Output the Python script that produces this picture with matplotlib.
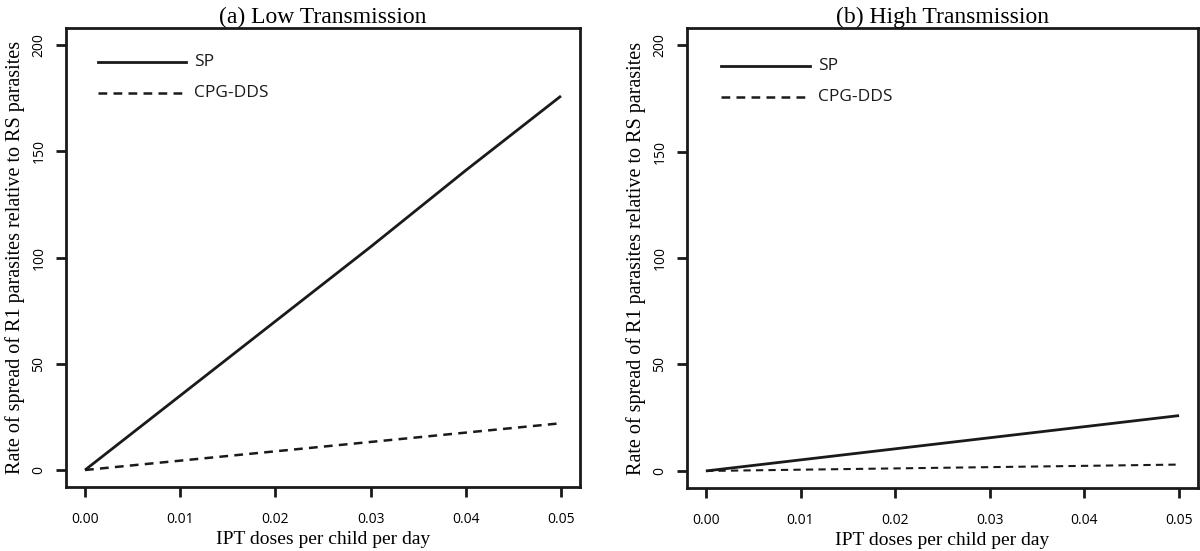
import matplotlib
matplotlib.use("Agg")
import matplotlib.pyplot as plt

doses = [0.0, 0.01, 0.02, 0.03, 0.04, 0.05]
low_sp = [0, 35, 70, 105, 141, 176]
low_cpg = [0, 4.4, 8.8, 13.2, 17.6, 22]
high_sp = [0, 5.2, 10.4, 15.6, 20.8, 26]
high_cpg = [0, 0.6, 1.2, 1.8, 2.4, 3]

titles = ["(a) Low Transmission", "(b) High Transmission"]
xticks = [0.0, 0.01, 0.02, 0.03, 0.04, 0.05]
xticklabels = ["0.00", "0.01", "0.02", "0.03", "0.04", "0.05"]
yticks = [0, 50, 100, 150, 200]
series_names = ["SP", "CPG-DDS"]

serif = "Liberation Serif"
sans = "Open Sans"

fig = plt.figure(figsize=(12, 5.51), dpi=100)
positions = [
    [66 / 1200, 1 - 487 / 551, (580 - 66) / 1200, (487 - 28) / 551],
    [687 / 1200, 1 - 488 / 551, (1198 - 687) / 1200, (488 - 28) / 551],
]
data = [(low_sp, low_cpg), (high_sp, high_cpg)]
legend_pos = [(98, 186, 194, 62, 93), (721, 810, 818, 66, 97)]

for i in range(2):
    ax = fig.add_axes(positions[i])
    sp, cpg = data[i]
    ax.plot(doses, sp, color="#1a1a1a", lw=2.0, solid_capstyle="butt")
    ax.plot(doses, cpg, color="#1a1a1a", lw=1.8 if i == 0 else 1.5,
            linestyle=(0, (3.5, 2.5)))
    ax.set_xlim(-0.002, 0.052)
    ax.set_ylim(-8, 208)
    ax.set_xticks(xticks)
    ax.set_xticklabels(xticklabels, fontfamily=sans, fontsize=10)
    ax.set_yticks(yticks)
    ax.set_yticklabels([str(v) for v in yticks], fontfamily=sans, fontsize=10,
                       rotation=90, va="center")
    ax.tick_params(axis="both", direction="out", length=7, width=2, color="#1a1a1a")
    ax.tick_params(axis="x", pad=11)
    ax.tick_params(axis="y", pad=7)
    for s in ax.spines.values():
        s.set_linewidth(2)
        s.set_color("#1a1a1a")
    ax.set_title(titles[i], fontfamily=serif, fontsize=17, pad=1)
    ax.set_xlabel("IPT doses per child per day", fontfamily=serif, fontsize=14, labelpad=3)
    ax.set_ylabel("Rate of spread of R1 parasites relative to RS parasites",
                  fontfamily=serif, fontsize=14.5, labelpad=5)
    # legend (no box), in figure pixel coordinates
    x0, x1, xt, y_sp, y_cpg = legend_pos[i]
    for name, yy, ls in [(series_names[0], y_sp, "-"), (series_names[1], y_cpg, (0, (3.5, 2.5)))]:
        fy = 1 - yy / 551
        fig.add_artist(plt.Line2D([x0 / 1200, x1 / 1200], [fy, fy], color="#1a1a1a",
                                  lw=2.0 if ls == "-" else 1.8, linestyle=ls,
                                  transform=fig.transFigure))
        fig.text(xt / 1200, fy, name, fontfamily=sans, fontsize=12.5, va="center",
                 ha="left", color="#1a1a1a")

fig.savefig("out.png", dpi=100)
